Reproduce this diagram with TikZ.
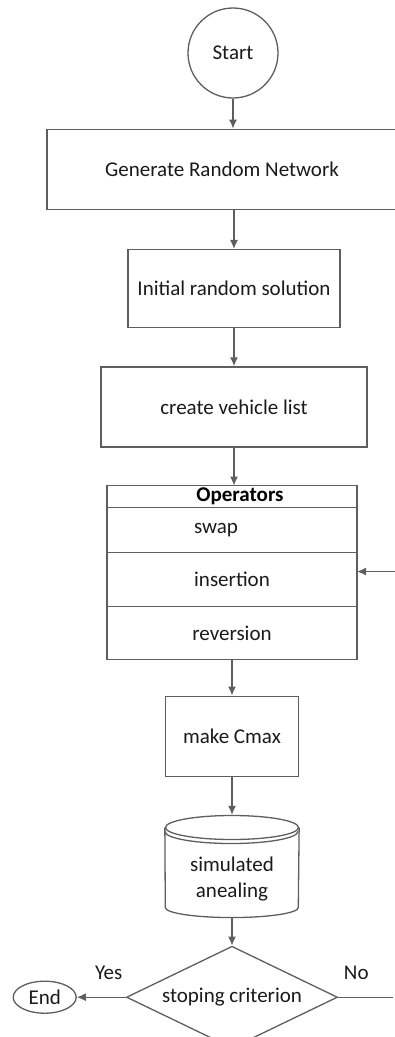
\documentclass[tikz,border=0pt]{standalone}
\usepackage{fontspec}
\setmainfont{Carlito}
\usetikzlibrary{shapes,arrows.meta,positioning}
\definecolor{edgegray}{HTML}{5E5E5E}
\definecolor{inkgray}{HTML}{1A1A1A}
\tikzset{block/.style = {draw=edgegray, rectangle, line width=1.3pt, text=inkgray, font=\fontsize{21}{26}\selectfont},
         term/.style = {draw=edgegray, circle, line width=1.3pt, text=inkgray, inner sep=0pt, font=\fontsize{21}{26}\selectfont},
         stopbox/.style = {draw=edgegray, ellipse, line width=1.3pt, text=inkgray, inner sep=0pt, font=\fontsize{21}{26}\selectfont},
         decision/.style = {draw=edgegray, diamond, aspect=2.07, line width=1.3pt, text=inkgray, inner sep=0pt, font=\fontsize{21}{26}\selectfont},
         oprow/.style = {block, minimum width=250pt, inner sep=0pt, outer sep=0pt},
         answer/.style = {text=inkgray, font=\fontsize{21}{26}\selectfont},
         flow/.style = {draw=edgegray, line width=1.3pt, -{Latex[length=9pt,width=8pt]}},
}

\begin{document}
\begin{tikzpicture}[node distance = 38pt]
  \useasboundingbox (0,0) rectangle (395pt,-1037pt);

  \node[term, minimum size=90pt] (start) at (233pt,-53pt) {Start};
  \node[block, minimum width=350pt, minimum height=80pt, below=30pt of start, xshift=-11pt] (network) {Generate Random Network};
  \node[block, minimum width=212pt, minimum height=78pt, below=39pt of network, xshift=12pt] (initial) {Initial random solution};
  \node[block, minimum width=266pt, minimum height=80pt, below=of initial] (vehicles) {create vehicle list};

  % operators table
  \node[oprow, minimum height=22pt, below=of vehicles, xshift=-2pt, font=\fontsize{21}{26}\selectfont\bfseries, text=black] (ops) {\hspace{16pt}Operators};
  \node[oprow, minimum height=45pt, below=0pt of ops] (swap) {swap\hspace*{32pt}};
  \node[oprow, minimum height=54pt, below=0pt of swap] (insertion) {insertion};
  \node[oprow, minimum height=53pt, below=0pt of insertion] (reversion) {reversion};
  \coordinate[right=38pt of insertion.east, yshift=8pt] (loopin);

  \node[block, minimum width=133pt, minimum height=80pt, below=36pt of reversion] (cmax) {make Cmax};

  % storage drum
  \node[stopbox, minimum width=133pt, minimum height=24pt, below=38pt of cmax] (simcap) {};
  \node[answer, minimum width=133pt, minimum height=77pt, below=0pt of simcap, align=center, inner sep=0pt] (sim) {simulated\\anealing};
  \draw[draw=edgegray, line width=1.3pt] (simcap.west) -- ([yshift=10pt]sim.south west)
    arc[start angle=180, end angle=360, x radius=66.5pt, y radius=10pt] -- (simcap.east);
  \draw[draw=edgegray, line width=1.3pt] ([yshift=-4pt]simcap.west)
    arc[start angle=180, end angle=360, x radius=66.5pt, y radius=12pt];

  \node[decision, minimum width=211pt, minimum height=102pt, below=28pt of sim] (stop) {stoping criterion};
  \node[stopbox, minimum width=63pt, minimum height=32pt, left=49pt of stop] (end) {End};
  \coordinate[right=55pt of stop.east] (noend);

  \draw[flow] (start) -- (start |- network.north);
  \draw[flow] (initial |- network.south) -- (initial);
  \draw[flow] (initial) -- (vehicles);
  \draw[flow] (vehicles) -- (vehicles |- ops.north);
  \draw[flow] (reversion) -- (cmax);
  \draw[flow] (cmax) -- (simcap);
  \draw[flow] (sim) -- (stop);
  \draw[flow] (stop) -- node[answer, pos=0.35, above=14pt] {Yes} (end);
  \draw[draw=edgegray, line width=1.3pt] (stop) -- node[answer, pos=0.33, above=14pt] {No} (noend);
  \draw[flow] (loopin) -- (loopin -| insertion.east);

\end{tikzpicture}
\end{document}
